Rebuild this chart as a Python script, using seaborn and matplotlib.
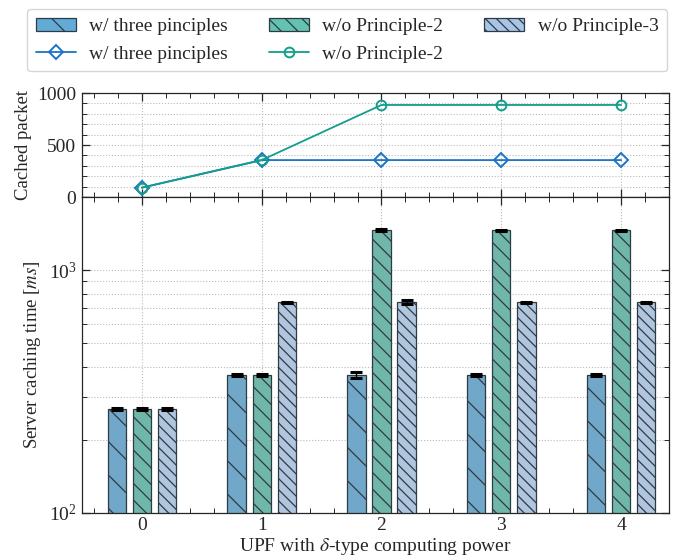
import numpy as np
import pandas as pd
import matplotlib
matplotlib.use("Agg")
import matplotlib.pyplot as plt
import seaborn as sns
from matplotlib.ticker import MultipleLocator, LogLocator, NullFormatter, FormatStrFormatter
from matplotlib.lines import Line2D
from matplotlib.patches import Patch

# ---------------- data ----------------
powers = [0, 1, 2, 3, 4]
variants = ["w/ three pinciples", "w/o Principle-2", "w/o Principle-3"]
time_w3 = [268, 370, 370, 370, 370]
time_wo2 = [268, 370, 1460, 1460, 1460]
time_wo3 = [268, 738, 738, 738, 738]
err_w3 = [3, 3, 12, 2, 2]
err_wo2 = [3, 3, 10, 8, 8]
err_wo3 = [3, 3, 15, 4, 4]
cached_w3 = [90, 355, 355, 355, 355]
cached_wo2 = [90, 355, 885, 885, 885]

# ---------------- style ----------------
sns.set_style("ticks")
plt.rcParams.update({
    "font.family": ["Liberation Serif", "DejaVu Serif"],
    "mathtext.fontset": "stix",
    "font.size": 14,
    "axes.labelsize": 13.5,
    "xtick.labelsize": 14,
    "ytick.labelsize": 14,
    "legend.fontsize": 14,
    "hatch.linewidth": 0.9,
    "axes.linewidth": 0.9,
})

bar_colors = {"w/ three pinciples": "#62abd6",
              "w/o Principle-2": "#63c3b0",
              "w/o Principle-3": "#a8c4e6"}
hatches = {"w/ three pinciples": "\\", "w/o Principle-2": "\\\\",
           "w/o Principle-3": "\\\\\\"}
line_blue = "#1a74c8"
line_green = "#129d8c"
edge = "#2f3b44"

fig = plt.figure(figsize=(6.77, 5.58), dpi=100)
L, R = 82 / 677, 669 / 677
ax1 = fig.add_axes([L, 1 - 197 / 558, R - L, (197 - 93) / 558])
ax2 = fig.add_axes([L, 1 - 513 / 558, R - L, (513 - 197) / 558], sharex=ax1)

# ---------------- top panel ----------------
df_top = pd.DataFrame({"power": powers * 2,
                       "cached": cached_w3 + cached_wo2,
                       "variant": [variants[0]] * 5 + [variants[1]] * 5})
sns.lineplot(data=df_top[df_top.variant == variants[0]], x="power", y="cached",
             ax=ax1, color=line_blue, marker="D", markersize=7,
             markerfacecolor="none", markeredgecolor=line_blue,
             markeredgewidth=1.4, linewidth=1.3, legend=False)
sns.lineplot(data=df_top[df_top.variant == variants[1]], x="power", y="cached",
             ax=ax1, color=line_green, marker="o", markersize=7,
             markerfacecolor="none", markeredgecolor=line_green,
             markeredgewidth=1.4, linewidth=1.3, legend=False)
ax1.set_ylim(0, 1000)
ax1.yaxis.set_major_locator(MultipleLocator(500))
ax1.yaxis.set_minor_locator(MultipleLocator(100))
ax1.set_ylabel("Cached packet")
ax1.set_xlabel("")

# ---------------- bottom panel ----------------
df_bar = pd.DataFrame({
    "power": powers * 3,
    "time": time_w3 + time_wo2 + time_wo3,
    "err": err_w3 + err_wo2 + err_wo3,
    "variant": [variants[0]] * 5 + [variants[1]] * 5 + [variants[2]] * 5,
})
sns.barplot(data=df_bar, x="power", y="time", hue="variant", hue_order=variants,
            palette=bar_colors, width=0.63, gap=0.27, errorbar=None,
            legend=False, ax=ax2, edgecolor=edge, linewidth=0.9,
            native_scale=True)
bars = [p for p in ax2.patches]
for i, p in enumerate(bars):
    v = variants[i // 5]
    p.set_hatch(hatches[v])
    p.set_edgecolor(edge)
xs = [p.get_x() + p.get_width() / 2 for p in bars]
hs = [p.get_height() for p in bars]
ax2.errorbar(xs, hs, yerr=df_bar["err"].values, fmt="none", ecolor="black",
             elinewidth=1.0, capsize=4, capthick=2.2, zorder=5)
ax2.set_yscale("log")
ax2.set_ylim(100, 2000)
ax2.yaxis.set_major_locator(LogLocator(base=10))
ax2.yaxis.set_minor_locator(LogLocator(base=10, subs=np.arange(2, 10)))
ax2.yaxis.set_minor_formatter(NullFormatter())
ax2.set_ylabel("Server caching time [$ms$]")
ax2.set_xlabel("UPF with $\\delta$-type computing power", fontsize=14, labelpad=1)

for ax in (ax1, ax2):
    ax.set_xlim(-0.5, 4.4)
    ax.xaxis.set_major_locator(MultipleLocator(1))
    ax.xaxis.set_minor_locator(MultipleLocator(0.2))
    ax.xaxis.set_major_formatter(FormatStrFormatter("%d"))
    ax.tick_params(which="both", direction="in", top=True, right=True)
    ax.tick_params(which="major", length=6, width=0.9, pad=4)
    ax.tick_params(which="minor", length=3.5, width=0.7)
    ax.grid(True, which="major", axis="both", linestyle=":", color="#bbbbbb", linewidth=0.8)
    ax.grid(True, which="minor", axis="y", linestyle=":", color="#bbbbbb", linewidth=0.8)
    ax.set_axisbelow(True)
ax2.tick_params(axis="x", which="major", pad=3)
ax1.tick_params(labelbottom=False)
fig.align_ylabels([ax1, ax2])

# ---------------- legend ----------------
h_bars = [Patch(facecolor=bar_colors[v], edgecolor=edge, hatch=hatches[v],
                linewidth=0.9, label=v) for v in variants]
h_lines = [Line2D([], [], color=line_blue, marker="D", markerfacecolor="none",
                  markeredgewidth=1.4, markersize=7, linewidth=1.3, label=variants[0]),
           Line2D([], [], color=line_green, marker="o", markerfacecolor="none",
                  markeredgewidth=1.4, markersize=7, linewidth=1.3, label=variants[1])]
handles = [h_bars[0], h_lines[0], h_bars[1], h_lines[1], h_bars[2]]
leg = fig.legend(handles=handles, loc="center", bbox_to_anchor=(0.513, 0.928),
                 ncol=3, frameon=True, fancybox=True, edgecolor="#cccccc",
                 handlelength=2.05, columnspacing=2.1, handletextpad=0.7,
                 borderpad=0.45, labelspacing=0.5)

fig.savefig("out.png", dpi=100)
